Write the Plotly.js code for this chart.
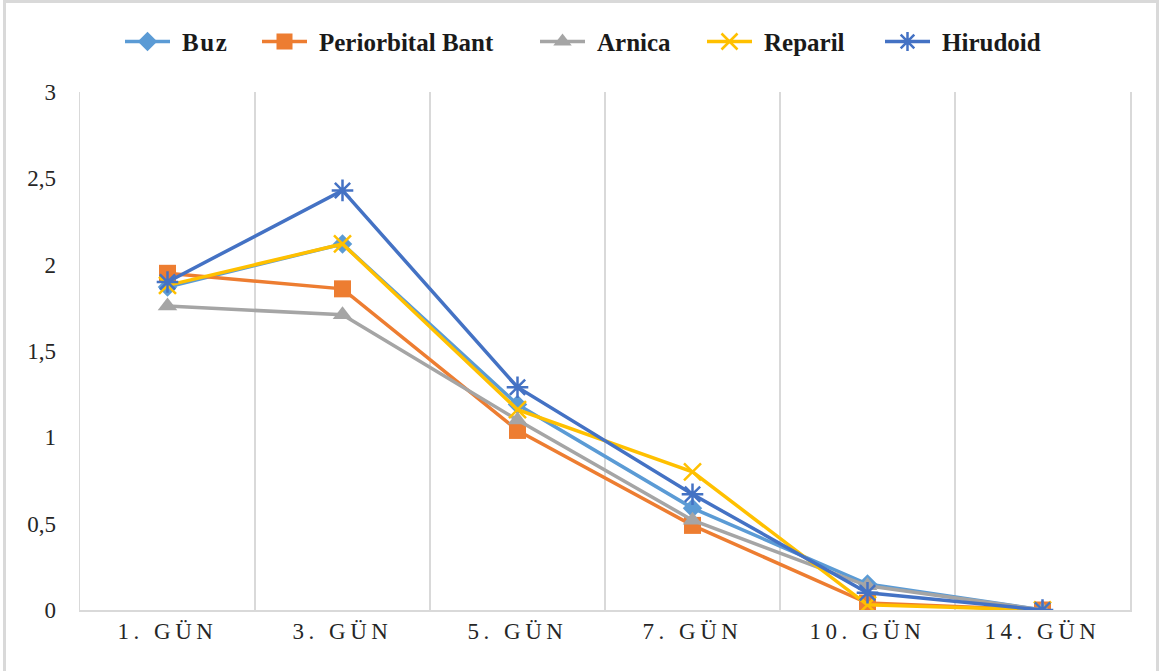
<!DOCTYPE html>
<html>
<head>
<meta charset="utf-8">
<script src="https://cdn.plot.ly/plotly-3.0.1.min.js"></script>
<style>
  html, body { margin: 0; padding: 0; background: #ffffff; }
  #wrap { position: relative; width: 1160px; height: 671px; overflow: hidden; }
  #chart { position: absolute; left: 0; top: 0; width: 1160px; height: 671px; }
  #frame { position: absolute; left: 3px; top: 0px; width: 1150px; height: 680px;
           border: 3px solid #d9d9d9; pointer-events: none; }
  .xtick text { letter-spacing: 4.5px; }
  .legendtext { letter-spacing: 1.6px; }
</style>
</head>
<body>
<div id="wrap">
  <div id="chart"></div>
  <div id="frame"></div>
</div>
<script>
// Days of follow-up
const days = ["1. GÜN", "3. GÜN", "5. GÜN", "7. GÜN", "10. GÜN", "14. GÜN"];

// Mean scores per treatment group
const buz         = [1.87, 2.12, 1.19, 0.59, 0.15, 0];
const periorbital = [1.95, 1.86, 1.04, 0.49, 0.04, 0];
const arnica      = [1.76, 1.71, 1.10, 0.52, 0.14, 0];
const reparil     = [1.88, 2.12, 1.16, 0.80, 0.03, 0];
const hirudoid    = [1.90, 2.43, 1.29, 0.67, 0.10, 0];

const yTicks = [0, 0.5, 1, 1.5, 2, 2.5, 3];

// Plot area in pixels, used to place each legend entry
const plotLeft = 80, plotWidth = 1050;
const legendLeftPx = [120, 257, 535, 702, 880];

function series(name, values, color, symbol, size, lineW, legendId) {
  return {
    type: "scatter",
    mode: "lines+markers",
    name: name,
    legend: legendId,
    x: days,
    y: values,
    line: { color: color, width: 3.5 },
    marker: { color: color, symbol: symbol, size: size,
              line: { color: color, width: lineW } }
  };
}

const traces = [
  series("Buz", buz, "#5B9BD5", "diamond", 15, 0, "legend"),
  series("Periorbital Bant", periorbital, "#ED7D31", "square", 17, 0, "legend2"),
  series("Arnica", arnica, "#A5A5A5", "triangle-up", 17, 0, "legend3"),
  series("Reparil", reparil, "#FFC000", "x-thin-open", 17, 2.5, "legend4"),
  series("Hirudoid", hirudoid, "#4472C4", "asterisk-open", 18, 2.5, "legend5")
];

function legendAt(px) {
  return {
    orientation: "h",
    x: (px - plotLeft) / plotWidth, xanchor: "left",
    y: 1.097, yanchor: "middle",
    bgcolor: "rgba(0,0,0,0)",
    font: { family: "Liberation Serif", size: 25, color: "#1a1a1a", weight: "bold" },
    itemwidth: 52
  };
}

const layout = {
  width: 1160,
  height: 671,
  margin: { l: 80, r: 30, t: 92, b: 61 },
  paper_bgcolor: "#ffffff",
  plot_bgcolor: "#ffffff",
  separators: ",.",
  showlegend: true,
  legend: legendAt(legendLeftPx[0]),
  legend2: legendAt(legendLeftPx[1]),
  legend3: legendAt(legendLeftPx[2]),
  legend4: legendAt(legendLeftPx[3]),
  legend5: legendAt(legendLeftPx[4]),
  xaxis: {
    type: "category",
    tickson: "boundaries",
    showgrid: true,
    gridcolor: "#d9d9d9",
    gridwidth: 1.5,
    showline: true,
    linecolor: "#d9d9d9",
    linewidth: 1.5,
    ticks: "",
    zeroline: false,
    tickfont: { family: "Liberation Serif", size: 23, color: "#262626" },
    range: [-0.5, 5.5]
  },
  yaxis: {
    range: [0, 3],
    tickvals: yTicks,
    tickformat: ".1~f",
    showgrid: false,
    zeroline: false,
    showline: true,
    mirror: true,
    linecolor: "#d9d9d9",
    linewidth: 1.5,
    ticks: "outside",
    ticklen: 18,
    tickcolor: "rgba(0,0,0,0)",
    tickfont: { family: "Liberation Serif", size: 23, color: "#262626" }
  }
};

Plotly.newPlot("chart", traces, layout, { displayModeBar: false, staticPlot: true })
  .then(function (gd) {
    // Longer legend line samples with the marker centred on them
    gd.querySelectorAll(".legendlines path").forEach(function (p) {
      p.setAttribute("d", "M5,0h45");
    });
    gd.querySelectorAll(".legendpoints path").forEach(function (p) {
      p.setAttribute("transform", "translate(27.5,0)");
    });
  });
</script>
</body>
</html>
